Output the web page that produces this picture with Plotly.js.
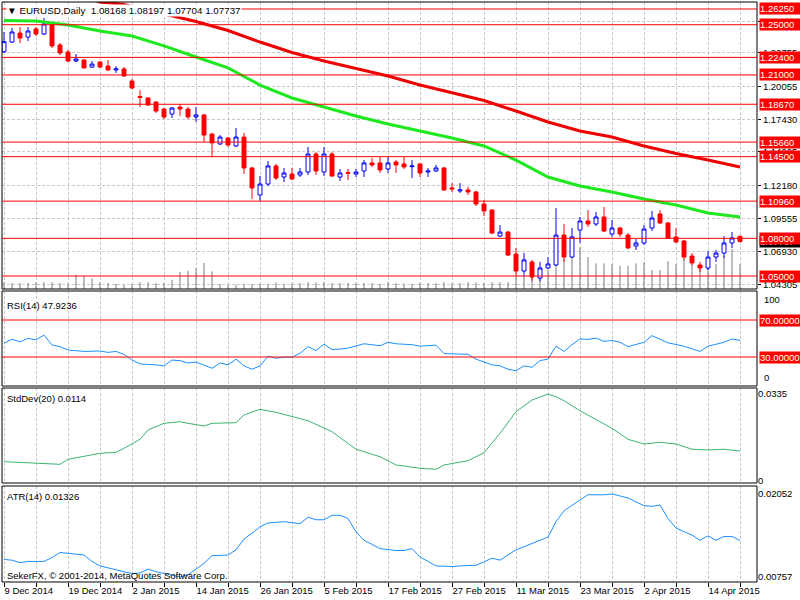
<!DOCTYPE html>
<html><head><meta charset="utf-8">
<script src="https://cdn.plot.ly/plotly-3.0.1.min.js"></script>
<style>html,body{margin:0;padding:0;background:#fff}#chart{width:800px;height:600px}</style>
</head><body><div id="chart"></div>
<script>
// ---------- DATA ----------
const dateLabels = ['9 Dec 2014','19 Dec 2014','2 Jan 2015','14 Jan 2015','26 Jan 2015','5 Feb 2015','17 Feb 2015','27 Feb 2015','11 Mar 2015','23 Mar 2015','2 Apr 2015','14 Apr 2015'];
const openP  = [1.2285,1.2362,1.2434,1.2402,1.2466,1.2426,1.2498,1.2339,1.2283,1.2211,1.2219,1.2163,1.2203,1.2171,1.2140,1.2148,1.2052,1.1929,1.1917,1.1885,1.1829,1.1789,1.1845,1.1829,1.1766,1.1782,1.1630,1.1551,1.1598,1.1535,1.1606,1.1360,1.1145,1.1232,1.1376,1.1288,1.1312,1.1304,1.1328,1.1471,1.1328,1.1471,1.1288,1.1323,1.1312,1.1336,1.1400,1.1400,1.1352,1.1407,1.1392,1.1370,1.1392,1.1328,1.1336,1.1360,1.1201,1.1177,1.1185,1.1169,1.1073,1.1025,1.0818,1.0850,1.0675,1.0540,1.0612,1.0484,1.0564,1.0588,1.0826,1.0651,1.0866,1.0938,1.0914,1.0970,1.0834,1.0882,1.0826,1.0739,1.0763,1.0882,1.0994,1.0922,1.0811,1.0779,1.0659,1.0588,1.0564,1.0651,1.0683,1.0763,1.08168];
const highP  = [1.2442,1.2474,1.2482,1.2482,1.2482,1.2553,1.2514,1.2354,1.2299,1.2267,1.2227,1.2211,1.2211,1.2219,1.2171,1.2163,1.2068,1.1980,1.1925,1.1890,1.1837,1.1845,1.1869,1.1845,1.1845,1.1789,1.1638,1.1622,1.1606,1.1678,1.1638,1.1368,1.1296,1.1415,1.1392,1.1360,1.1360,1.1360,1.1527,1.1487,1.1527,1.1487,1.1352,1.1352,1.1352,1.1423,1.1439,1.1447,1.1447,1.1423,1.1447,1.1423,1.1395,1.1360,1.1384,1.1368,1.1240,1.1240,1.1209,1.1177,1.1105,1.1033,1.0906,1.0858,1.0723,1.0683,1.0628,1.0612,1.0651,1.1041,1.0914,1.0882,1.0970,1.1025,1.1010,1.1049,1.0946,1.0890,1.0842,1.0795,1.0906,1.1018,1.1025,1.0930,1.0882,1.0787,1.0683,1.0612,1.0699,1.0707,1.0818,1.0850,1.08197];
const lowP   = [1.2275,1.2354,1.2354,1.2370,1.2410,1.2418,1.2315,1.2259,1.2203,1.2203,1.2152,1.2156,1.2156,1.2132,1.2116,1.2084,1.1988,1.1845,1.1853,1.1797,1.1750,1.1758,1.1774,1.1750,1.1726,1.1567,1.1447,1.1543,1.1527,1.1527,1.1312,1.1113,1.1097,1.1216,1.1264,1.1248,1.1264,1.1288,1.1304,1.1304,1.1296,1.1290,1.1256,1.1264,1.1288,1.1288,1.1368,1.1320,1.1320,1.1320,1.1352,1.1280,1.1288,1.1288,1.1328,1.1177,1.1169,1.1161,1.1145,1.1057,1.0978,1.0834,1.0811,1.0659,1.0495,1.0493,1.0462,1.0458,1.0556,1.0580,1.0612,1.0644,1.0763,1.0890,1.0898,1.0850,1.0811,1.0811,1.0715,1.0707,1.0747,1.0858,1.0914,1.0795,1.0763,1.0628,1.0588,1.0532,1.0548,1.0612,1.0644,1.0723,1.07704];
const closeP = [1.2365,1.2442,1.2394,1.2450,1.2426,1.2506,1.2331,1.2275,1.2211,1.2227,1.2156,1.2187,1.2163,1.2140,1.2148,1.2092,1.1996,1.1921,1.1861,1.1813,1.1766,1.1837,1.1829,1.1766,1.1782,1.1622,1.1559,1.1606,1.1543,1.1606,1.1360,1.1201,1.1232,1.1376,1.1280,1.1320,1.1272,1.1328,1.1471,1.1336,1.1471,1.1296,1.1320,1.1318,1.1328,1.1400,1.1384,1.1344,1.1400,1.1384,1.1368,1.1376,1.1320,1.1336,1.1360,1.1185,1.1193,1.1185,1.1169,1.1073,1.1018,1.0842,1.0850,1.0667,1.0540,1.0628,1.0492,1.0564,1.0596,1.0826,1.0651,1.0811,1.0938,1.0914,1.0970,1.0858,1.0882,1.0834,1.0723,1.0763,1.0874,1.0962,1.0922,1.0803,1.0771,1.0651,1.0604,1.0564,1.0651,1.0683,1.0763,1.0803,1.07737];
const tickVolume = [670,600,600,600,670,670,670,600,530,1430,1330,1070,670,600,500,400,500,670,670,600,600,930,1730,1830,2070,2600,1770,500,400,400,500,500,530,500,670,500,570,600,670,670,670,600,600,600,600,600,600,530,670,600,530,530,600,570,600,670,600,600,670,670,600,670,670,670,1200,1200,1400,1200,1900,2500,3000,3670,4170,3200,2570,2570,2500,2330,2330,2570,2670,1900,1900,2770,2500,3000,2500,2000,2500,2500,3300,4000,2500];
const maFastBars = [0,4,8,12,16,20,24,28,32,36,40,44,48,52,56,60,64,68,72,76,80,84,88,92];
const maFast = [1.2533,1.2529,1.2498,1.2450,1.2410,1.2331,1.2243,1.2156,1.2020,1.1917,1.1845,1.1774,1.1710,1.1654,1.1598,1.1535,1.1423,1.1288,1.1216,1.1169,1.1113,1.1065,1.1002,1.0970];
const maSlowBars = [10,12,15,20,24,28,32,36,40,44,48,52,56,60,64,68,72,76,80,84,88,92];
const maSlow = [1.2721,1.2681,1.2661,1.2585,1.2526,1.2454,1.2362,1.2279,1.2211,1.2152,1.2092,1.2020,1.1957,1.1897,1.1813,1.1726,1.1654,1.1606,1.1535,1.1475,1.1423,1.1368];
const priceLevels = [1.2625,1.25,1.224,1.21,1.1867,1.1566,1.145,1.1096,1.08,1.05];
const priceTicks = [1.25280,1.22755,1.20055,1.17430,1.14905,1.12180,1.09555,1.06930,1.04305];
const lastPrice = 1.07737;
const rsiBars = [0,1,2,3,4,5,6,7,8,9,10,12,13,14,15,16,17,19,20,21,22,23,24,26,27,28,29,30,31,32,33,34,35,36,37,38,39,40,41,42,43,45,47,48,49,51,52,54,55,56,58,59,61,62,63,64,65,66,67,68,69,70,71,72,73,74,75,76,77,78,80,81,82,83,85,87,88,90,91,92];
const rsiVals = [44.8,49.2,46.4,50.2,48.5,53.7,43.0,41.2,37.6,37.0,36.0,36.5,35.0,36.0,32.9,26.7,22.5,21.5,20.4,26.7,26.1,23.5,24.6,17.8,23.5,21.5,27.7,20.4,16.8,20.4,30.8,28.7,29.8,29.8,33.9,41.2,37.0,43.8,38.1,38.6,39.6,44.3,42.2,45.9,44.3,43.3,41.7,42.8,33.9,33.4,32.9,27.7,21.5,20.4,16.8,15.2,20.4,18.9,26.1,27.7,41.7,36.0,43.3,49.5,49.0,50.5,46.9,47.9,45.9,41.2,45.9,53.1,49.0,45.3,41.7,36.0,41.7,45.9,49.5,47.9];
const rsiLevels = [70, 30];
const sdBars = [0,3,5,7,8,10,12,14,15,17,18,20,22,23,25,26,29,30,32,34,36,38,41,44,47,49,50,52,54,55,58,60,62,64,66,68,69,70,72,74,76,78,80,82,84,86,88,90,92];
const sdVals = [0.00726,0.00687,0.00663,0.00625,0.00819,0.00947,0.01051,0.0109,0.01245,0.01595,0.01956,0.02215,0.02278,0.02215,0.02111,0.02215,0.02239,0.02538,0.02759,0.02642,0.02472,0.02316,0.0189,0.01207,0.0092,0.00598,0.00559,0.00469,0.00431,0.00598,0.00764,0.01075,0.01827,0.02666,0.0312,0.0335,0.03248,0.03092,0.02704,0.02371,0.02021,0.01595,0.01412,0.01478,0.01412,0.01207,0.0118,0.01207,0.0114];
const atrBars = [0,1,2,3,5,6,7,8,10,11,12,14,16,17,18,19,21,22,23,25,26,28,29,30,31,32,33,35,37,38,39,40,41,42,43,44,45,47,49,50,51,52,54,56,57,59,61,62,64,66,68,69,70,72,73,75,76,78,80,81,82,83,84,86,87,88,89,90,91,92];
const atrVals = [0.0103,0.0102,0.0098,0.0100,0.0100,0.0106,0.0114,0.0113,0.0110,0.0100,0.0093,0.0087,0.0081,0.0082,0.0088,0.0084,0.0079,0.00757,0.0079,0.0097,0.0109,0.0110,0.0118,0.0135,0.0144,0.0154,0.0160,0.0162,0.0159,0.0169,0.0165,0.0165,0.0172,0.0172,0.0167,0.0146,0.0133,0.0120,0.0117,0.0117,0.0120,0.0107,0.0093,0.0092,0.0093,0.0094,0.0105,0.0102,0.0118,0.0128,0.0138,0.0162,0.0179,0.0196,0.0204,0.0204,0.02052,0.0199,0.0187,0.0186,0.0188,0.0167,0.0152,0.0141,0.0133,0.0140,0.0133,0.0139,0.0139,0.01326];

// ---------- LAYOUT HELPERS ----------
const bars = openP.map((_, i) => i);
const FONT = 'Liberation Sans, Arial, sans-serif';
const FS = 9.5;
const W = 800, H = 600;
const XD = [2 / W, 757 / W];
const XR = [-0.25, 94.125];
const py = p => 1 - p / H;
const DOM = {
  main: [py(289), py(2)],
  rsi: [py(386), py(291)],
  sd: [py(483), py(388)],
  atr: [py(582), py(486)]
};
const GRID = '#c8c8c8';
const gridTicks = [];
for (let b = 0; b < bars.length; b += 4) gridTicks.push(b);
const gridText = gridTicks.map(b => (b % 8 === 0 && dateLabels[b / 8]) ? dateLabels[b / 8] : '');

function xax(anchor, withLabels) {
  return {
    domain: XD, range: XR, anchor: anchor, fixedrange: true,
    tickmode: 'array', tickvals: gridTicks, ticktext: gridText,
    showticklabels: withLabels, ticks: withLabels ? 'outside' : '', ticklen: 4, tickcolor: '#000',
    ticklabelposition: 'outside right',
    tickfont: { family: FONT, size: FS, color: '#000' },
    showgrid: true, gridcolor: GRID, griddash: '3px,2px', gridwidth: 1,
    zeroline: false, showline: false, rangeslider: { visible: false }
  };
}

const traces = [
  { type: 'bar', x: bars, y: tickVolume, xaxis: 'x', yaxis: 'y', width: 0.13,
    marker: { color: '#808080', line: { width: 0 } }, hoverinfo: 'skip' },
  { type: 'candlestick', x: bars, open: openP, high: highP, low: lowP, close: closeP,
    xaxis: 'x', yaxis: 'y5', whiskerwidth: 0,
    increasing: { line: { color: '#0000ff', width: 1 }, fillcolor: '#ffffff' },
    decreasing: { line: { color: '#ff0000', width: 1 }, fillcolor: '#ff0000' } },
  { type: 'scatter', mode: 'lines', x: maFastBars, y: maFast, xaxis: 'x', yaxis: 'y5',
    line: { color: '#1ee81e', width: 3 } },
  { type: 'scatter', mode: 'lines', x: maSlowBars, y: maSlow, xaxis: 'x', yaxis: 'y5',
    line: { color: '#ee0000', width: 3 } },
  { type: 'scatter', mode: 'lines', x: rsiBars, y: rsiVals, xaxis: 'x2', yaxis: 'y2',
    line: { color: '#1e90ff', width: 1 } },
  { type: 'scatter', mode: 'lines', x: sdBars, y: sdVals, xaxis: 'x3', yaxis: 'y3',
    line: { color: '#3cb371', width: 1 } },
  { type: 'scatter', mode: 'lines', x: atrBars, y: atrVals, xaxis: 'x4', yaxis: 'y4',
    line: { color: '#1e90ff', width: 1 } }
];

const shapes = [];
const annotations = [];
const txt = (text, x, y, extra) => Object.assign({
  text: text, x: x, y: y, xref: 'paper', yref: 'paper', xanchor: 'left', yanchor: 'middle',
  showarrow: false, font: { family: FONT, size: FS, color: '#000' }
}, extra || {});

// panel boxes
Object.values(DOM).forEach(d => shapes.push({
  type: 'rect', xref: 'paper', yref: 'paper', x0: XD[0], x1: XD[1], y0: d[0], y1: d[1],
  line: { color: '#000', width: 1 }, layer: 'above'
}));
// price levels
priceLevels.forEach(v => shapes.push({
  type: 'line', xref: 'x domain', yref: 'y5', x0: 0, x1: 1, y0: v, y1: v,
  line: { color: '#ff0000', width: 1 }, layer: 'above'
}));
rsiLevels.forEach(v => shapes.push({
  type: 'line', xref: 'x2 domain', yref: 'y2', x0: 0, x1: 1, y0: v, y1: v,
  line: { color: '#ff0000', width: 1 }, layer: 'above'
}));

// price label boxes
const boxX = 759 / W;
annotations.push(txt(lastPrice.toFixed(5), boxX, lastPrice,
  { yref: 'y5', bgcolor: '#000', borderpad: 0, width: 42, align: 'left', font: { family: FONT, size: FS, color: '#fff' } }));
priceLevels.forEach(v => annotations.push(txt(v.toFixed(5), boxX, v,
  { yref: 'y5', bgcolor: '#ff0000', borderpad: 0, width: 42, align: 'left', font: { family: FONT, size: FS, color: '#fff' } })));
rsiLevels.forEach(v => annotations.push(txt(v.toFixed(5), boxX, v,
  { yref: 'y2', bgcolor: '#ff0000', borderpad: 0, width: 42, align: 'left', font: { family: FONT, size: FS, color: '#fff' } })));
annotations.push(txt('100', 762 / W, 1, { yref: 'y2 domain', yanchor: 'top', yshift: -1 }));
annotations.push(txt('0', 762 / W, 0, { yref: 'y2 domain', yanchor: 'bottom', yshift: 1 }));

// titles
annotations.push(txt('▼ EURUSD,Daily  1.08168 1.08197 1.07704 1.07737', 6 / W, py(10),
  { bgcolor: '#fff', borderpad: 0, font: { family: FONT, size: 9.8, color: '#000' } }));
annotations.push(txt('RSI(14) 47.9236', 5 / W, py(305)));
annotations.push(txt('StdDev(20) 0.0114', 5 / W, py(398)));
annotations.push(txt('ATR(14) 0.01326', 5 / W, py(496)));
annotations.push(txt('SekerFX, © 2001-2014, MetaQuotes Software Corp.', 5 / W, py(575)));

const yRight = (dom, range, extra) => Object.assign({
  domain: dom, range: range, side: 'right', fixedrange: true, zeroline: false, showline: false,
  showgrid: false, ticks: '', tickfont: { family: FONT, size: FS, color: '#000' }
}, extra || {});

const layout = {
  width: W, height: H, margin: { l: 0, r: 0, t: 0, b: 0 },
  paper_bgcolor: '#fff', plot_bgcolor: '#fff', showlegend: false,
  xaxis: xax('y', false),
  xaxis2: xax('y2', false),
  xaxis3: xax('y3', false),
  xaxis4: xax('y4', true),
  yaxis: { domain: DOM.main, range: [0, 28700], visible: false, fixedrange: true, anchor: 'x' },
  yaxis5: yRight(DOM.main, [1.03968, 1.26807], {
    overlaying: 'y', anchor: 'x', tickmode: 'array', tickvals: priceTicks, tickformat: '.5f',
    ticks: 'outside', ticklen: 3, tickcolor: '#000',
    showgrid: true, gridcolor: GRID, griddash: '3px,2px', gridwidth: 1
  }),
  yaxis2: yRight(DOM.rsi, [-1.35, 101.35], { anchor: 'x2', showticklabels: false }),
  yaxis3: yRight(DOM.sd, [-0.00101, 0.03585], { anchor: 'x3', tickmode: 'array', tickvals: [0, 0.0335], ticktext: ['0', '0.0335'] }),
  yaxis4: yRight(DOM.atr, [0.00679, 0.02177], { anchor: 'x4', tickmode: 'array', tickvals: [0.00757, 0.02052], ticktext: ['0.00757', '0.02052'] }),
  shapes: shapes,
  annotations: annotations
};

Plotly.newPlot('chart', traces, layout, { staticPlot: true, displayModeBar: false });
</script>
</body></html>
